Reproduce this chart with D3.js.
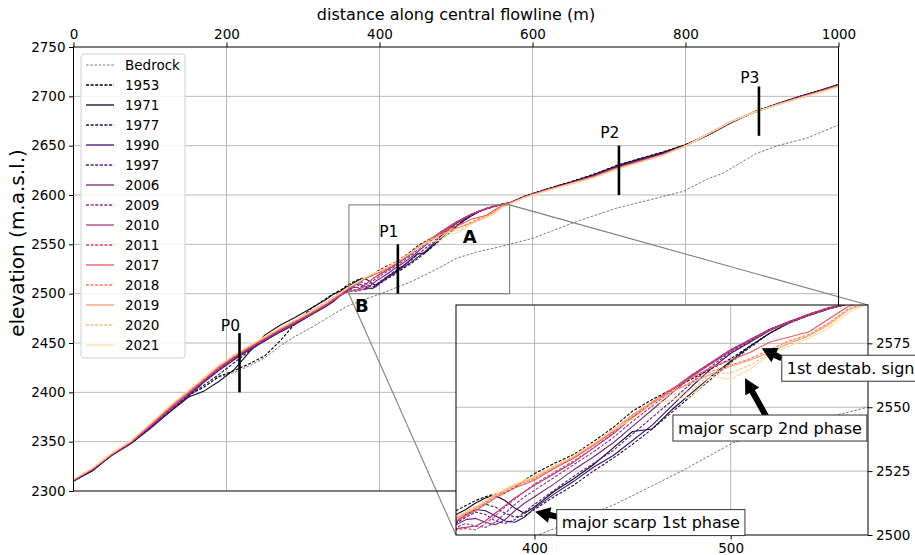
<!DOCTYPE html>
<html>
<head>
<meta charset="utf-8">
<script src="https://cdn.jsdelivr.net/npm/d3@7"></script>
<style>
  body { margin: 0; background: #fff; }
  svg { font-family: "DejaVu Sans", sans-serif; }
</style>
</head>
<body>
<svg id="chart" width="915" height="555"></svg>
<script>
// Distance along the central flowline (m) shared by all surface profiles
const distance = [0,25,50,75,100,125,150, 170,190,210,230,250,270,290,310,330,340,
  350,355,360,365,370,375,380,385,390,395,400,
  410,420,430,440,450,460,470,480,490,500,510,520,530,540,550,560,570,
  590,620,650,680,710,740,770,800,830,860,890,920,950,980,1000];

// Surface elevation (m a.s.l.) per survey year, sampled at `distance`
const elev1953 = [2310,2321,2337,2348,2364,2380,2397, 2405,2416,2422,2429,2437,2452,2470,2484.5,2495,2500,
  2504,2507,2509.5,2511.5,2513.5,2515,2516,2516.5,2518.5,2521.5,2524,
  2528,2531.5,2536.5,2542,2548.5,2553,2557,2561,2565,2569,2574,2579,2583,2586,2588.5,2590.5,2592,
  2599,2606.5,2613.5,2621,2630,2637,2643.5,2651,2661,2673.5,2684.5,2692.5,2700,2707,2712];
const elev1971 = [2310,2320.5,2336.5,2348,2363.5,2379.5,2395, 2401,2411,2423,2441,2458,2468,2476,2485,2494,2499.5,
  2503,2506,2508,2510,2512.5,2514.5,2515.5,2513.5,2510.5,2508.5,2511,
  2517,2522,2527.5,2534,2540.5,2541.5,2549,2555.5,2562,2568,2574,2579,2583.3,2586,2588.5,2590.5,2592,
  2598.5,2606,2613,2620.5,2629.5,2636.5,2643,2651,2661.5,2674,2684.5,2692.5,2700,2707,2712];
const elev1977 = [2310.5,2321,2337,2348.5,2364,2380,2396, 2407,2418,2430,2442,2453,2464,2473,2482,2491,2496.5,
  2501.5,2504.5,2507,2509,2511,2512,2511,2508.5,2507,2507.5,2510,
  2515,2519.5,2525,2530,2535.5,2541.5,2548,2554.5,2561,2567.5,2573.5,2579,2583,2586,2588.5,2590.5,2592,
  2598.5,2606,2613,2620,2629,2636,2642.5,2650.5,2661,2673.5,2684,2692.5,2700,2707,2712];
const elev1990 = [2310,2321.5,2336,2348,2363,2380,2396, 2410,2422,2433,2443,2452,2461,2469,2478,2487,2492,
  2499.5,2502.5,2505,2508,2510,2509.5,2507.5,2505.5,2505,2507,2510.5,
  2516,2521,2526.5,2531,2537,2543,2550.5,2558,2565,2571,2575.5,2580,2583.5,2586,2588.5,2590.5,2592,
  2598.5,2606,2612.5,2619.5,2628.5,2635.5,2642,2650,2661,2673.5,2684,2692,2699.5,2706.5,2711.5];
const elev1997 = [2310.5,2322,2336.5,2348.5,2364,2381,2397, 2410.5,2423,2434,2443.5,2452.5,2461.5,2469.5,2478.5,2487.5,2492.5,
  2499,2502,2504.5,2507,2509,2508,2505.5,2504.5,2506,2509,2512,
  2517.5,2523,2528,2533,2539.5,2546,2552.5,2559.5,2566,2571.5,2576,2580.5,2583.5,2586.5,2589,2590.5,2592,
  2598.5,2606,2612.5,2619.5,2628,2635,2641.5,2650,2661,2673.5,2684,2692,2699.5,2706.5,2711.5];
const elev2006 = [2311,2322,2337,2349,2365,2382,2398, 2411,2423.5,2434.5,2444,2453,2462,2470,2479,2488,2493,
  2498.5,2501.5,2504,2506,2506.5,2505,2504,2506,2509.5,2512.5,2515,
  2520,2525.5,2530.5,2536,2542.5,2549,2555.5,2562,2567,2572,2576.5,2580.5,2583.5,2586,2588.5,2590.5,2592,
  2598.5,2605.5,2612,2619,2628,2635,2641.5,2650,2661.5,2674,2684,2692,2699.5,2706.5,2711.5];
const elev2009 = [2311,2322.5,2337,2349,2365,2382,2398.5, 2411.5,2424,2435,2444.5,2453.5,2462.5,2470.5,2479,2488,2493.5,
  2498.5,2501,2503,2504.5,2503.5,2503,2505,2508.5,2512,2515,2517.5,
  2522.5,2527.5,2532.5,2538,2544.5,2550.5,2556.5,2562.5,2567.5,2572.5,2576.5,2580.5,2583.5,2586,2588.5,2590.5,2592,
  2598,2605.5,2612,2619,2627.5,2634.5,2641,2650,2661.5,2674,2684,2692,2699,2706,2711];
const elev2010 = [2311,2322,2337.5,2349.5,2365.5,2383,2399, 2412,2425,2435.5,2445,2454,2463,2471,2479.5,2488.5,2494,
  2499,2501,2502.5,2503,2503.5,2505.5,2508.5,2511.5,2514.5,2517,2519.5,
  2524,2528.5,2534,2539.5,2546,2551.5,2557,2562.5,2567.5,2572.5,2576.5,2580.5,2583.5,2586.5,2589,2590.5,2592,
  2598,2605.5,2612,2619,2627.5,2634.5,2641,2650,2661.5,2674,2684,2692,2699,2706,2711];
const elev2011 = [2311.5,2322.5,2337.5,2349.5,2366,2383,2399, 2412,2425,2436,2445.5,2454.5,2463.5,2471.5,2480,2489,2494,
  2499,2500.5,2502,2502.5,2502,2504.5,2507.5,2511,2514,2517,2520,
  2524.5,2529,2534,2540,2546,2552,2557,2562,2567,2572,2576,2580,2583,2586,2588.5,2590.5,2592,
  2598,2605.5,2612,2618.5,2627,2634,2641,2650,2661.5,2674,2684,2692,2699,2706,2711];
const elev2017 = [2311.5,2322.5,2337.5,2350,2366.5,2384,2400, 2413,2426,2436.5,2446,2455,2464,2472,2480.5,2489.5,2495,
  2500,2503,2505.5,2507.5,2509.5,2512,2514.5,2516.5,2518.5,2520,2521.5,
  2526,2530,2535,2540.5,2546.5,2552,2557,2561.5,2565.5,2568.5,2571.5,2575.5,2577.5,2579.5,2584.5,2589.5,2591.5,
  2598,2605,2611.5,2618.5,2627,2634,2640.5,2650,2662,2674.5,2684,2691.5,2698.5,2705.5,2710.5];
const elev2018 = [2311.5,2323,2338,2350,2367,2384.5,2400.5, 2413.5,2426.5,2437,2446.5,2455.5,2464.5,2472.5,2481,2490,2495.5,
  2500.5,2503.5,2506,2508,2510,2512.5,2515,2517,2519,2520.5,2522,
  2526.5,2530.5,2535.5,2541,2547,2552,2556,2560,2564,2566.5,2569,2572.5,2576,2578.5,2583,2588.5,2591,
  2598,2605,2611.5,2618,2626.5,2633.5,2640.5,2650,2662,2674.5,2684,2691.5,2698.5,2705.5,2710.5];
const elev2019 = [2312,2323,2338,2350.5,2367.5,2385,2401, 2414,2427,2437.5,2447,2456,2465,2473,2481.5,2490.5,2496,
  2501,2504,2506.5,2508.5,2510.5,2513,2515.5,2517.5,2519.5,2521,2522.5,
  2526.5,2530.5,2535.5,2541,2547,2552,2556,2559.5,2563,2566,2568.5,2571.5,2575,2578,2582.5,2588,2591,
  2597.5,2605,2611.5,2618,2626.5,2633.5,2640.5,2650,2662,2674.5,2684,2691.5,2698.5,2705.5,2710];
const elev2020 = [2312,2323,2338,2350.5,2368,2385.5,2401.5, 2414,2427,2437.5,2447,2456,2465,2473,2481.5,2490.5,2496,
  2501.5,2504,2507,2509,2511,2513,2515.5,2517.5,2519.5,2521,2523,
  2527,2531,2535.5,2541,2546.5,2551.5,2555,2556.5,2563,2563.5,2566.5,2571,2575.5,2578,2582,2588,2591,
  2597.5,2604.5,2611,2617.5,2626,2633,2640,2649.5,2662,2674.5,2684,2691.5,2698.5,2705,2710];
const elev2021 = [2312,2323.5,2338.5,2351,2368,2386,2402, 2414.5,2427.5,2438,2447.5,2456.5,2465.5,2473.5,2482,2491,2496.5,
  2501.5,2504.5,2507,2509,2511,2513.5,2516,2518,2520,2521.5,2523,
  2527,2531,2536,2541,2545.5,2551,2553,2554,2562,2561,2565,2570.5,2574,2577,2581,2587,2590.5,
  2597.5,2604.5,2611,2617.5,2626,2633,2640,2649.5,2662,2674.5,2684,2691.5,2698.5,2705,2710];

const years = ["1953","1971","1977","1990","1997","2006","2009","2010","2011","2017","2018","2019","2020","2021"];
const elevations = [elev1953,elev1971,elev1977,elev1990,elev1997,elev2006,elev2009,elev2010,elev2011,
  elev2017,elev2018,elev2019,elev2020,elev2021];
const dashedYears = ["1953","1977","1997","2009","2011","2018","2020"];

// Bedrock profile
const bedrockDist = [185,210,230,250,270,290,313,335,357,380,402,441,475,501,526,557,600,657,709,753,796,831,849,892,923,958,1000];
const bedrockElev = [2414,2420,2427,2435,2447,2457,2466.5,2477,2487,2494,2500,2512,2525,2536,2542,2547.5,2556,2573,2586.5,2595,2603.5,2617,2622,2642,2650.5,2657.5,2671];

// Profile markers P0..P3: distance, bottom and top elevation
const markerNames = ["P0","P1","P2","P3"];
const markerDist = [217,424,713,896];
const markerLow = [2400,2500,2600,2660];
const markerHigh = [2460,2550,2650,2710];
const markerLabelGap = [2,7,7.5,3];

// Axis ticks
const xTicks = [0,200,400,600,800,1000];
const yTicks = [2300,2350,2400,2450,2500,2550,2600,2650,2700,2750];
const insetXTicks = [400,500];
const insetYTicks = [2500,2525,2550,2575];

// Zoom window
const zoomX = [360,570];
const zoomY = [2500,2590];

const svg = d3.select("#chart");
const M = {left: 73.5, right: 838.5, top: 47, bottom: 491};
const I = {left: 456, right: 868, top: 305, bottom: 535};

const x = d3.scaleLinear([0,1000],[M.left,M.right]);
const y = d3.scaleLinear([2300,2750],[M.bottom,M.top]);
const xi = d3.scaleLinear(zoomX,[I.left,I.right]);
const yi = d3.scaleLinear(zoomY,[I.bottom,I.top]);
const fmt = d3.format("d");

const color = i => d3.interpolateMagma(i/14);
const gridColor = "#b0b0b0";
const bedColor = "#555";

const defs = svg.append("defs");
defs.append("clipPath").attr("id","clipMain").append("rect")
  .attr("x",M.left).attr("y",M.top).attr("width",M.right-M.left).attr("height",M.bottom-M.top);
defs.append("clipPath").attr("id","clipInset").append("rect")
  .attr("x",I.left).attr("y",I.top).attr("width",I.right-I.left).attr("height",I.bottom-I.top);

function drawProfiles(g, sx, sy) {
  const line = d3.line().x(d => sx(d[0])).y(d => sy(d[1]));
  g.append("path")
    .attr("d", line(bedrockDist.map((d,i)=>[d,bedrockElev[i]])))
    .attr("fill","none").attr("stroke",bedColor).attr("stroke-width",0.8)
    .attr("stroke-dasharray","2.6,1.6");
  years.forEach((yr,k) => {
    g.append("path")
      .attr("d", line(distance.map((d,i)=>[d,elevations[k][i]])))
      .attr("fill","none").attr("stroke",color(k)).attr("stroke-width",1.1)
      .attr("stroke-linejoin","round")
      .attr("stroke-dasharray", dashedYears.includes(yr) ? "3,1.6" : null);
  });
}

// ---------- main axes ----------
const main = svg.append("g");
const grid = main.append("g").attr("stroke",gridColor).attr("stroke-width",0.9);
xTicks.slice(1,-1).forEach(t => grid.append("line").attr("x1",x(t)).attr("x2",x(t)).attr("y1",M.top).attr("y2",M.bottom));
yTicks.slice(1,-1).forEach(t => grid.append("line").attr("x1",M.left).attr("x2",M.right).attr("y1",y(t)).attr("y2",y(t)));

drawProfiles(main.append("g").attr("clip-path","url(#clipMain)"), x, y);

// zoom window and connectors
main.append("rect").attr("x",x(zoomX[0])).attr("y",y(zoomY[1]))
  .attr("width",x(zoomX[1])-x(zoomX[0])).attr("height",y(zoomY[0])-y(zoomY[1]))
  .attr("fill","none").attr("stroke","#7f7f7f").attr("stroke-width",1.1);
main.append("line").attr("x1",x(zoomX[1])).attr("y1",y(zoomY[1])).attr("x2",I.right).attr("y2",I.top)
  .attr("stroke","#7f7f7f").attr("stroke-width",1.1);
main.append("line").attr("x1",x(zoomX[0])).attr("y1",y(zoomY[0])).attr("x2",I.left).attr("y2",I.bottom)
  .attr("stroke","#7f7f7f").attr("stroke-width",1.1);

// profile markers
markerNames.forEach((n,i) => {
  main.append("line").attr("x1",x(markerDist[i])).attr("x2",x(markerDist[i]))
    .attr("y1",y(markerLow[i])).attr("y2",y(markerHigh[i]))
    .attr("stroke","#000").attr("stroke-width",2.6);
  main.append("text").attr("x",x(markerDist[i])+0.5).attr("y",y(markerHigh[i])-markerLabelGap[i])
    .attr("text-anchor","end").attr("font-size",15.5).attr("fill","#000").text(n);
});
main.append("text").attr("x",x(518)).attr("y",y(2551.5)).attr("text-anchor","middle")
  .attr("font-size",18).attr("font-weight","bold").text("A");
main.append("text").attr("x",x(377)).attr("y",y(2481)).attr("text-anchor","middle")
  .attr("font-size",18).attr("font-weight","bold").text("B");

// frame
main.append("rect").attr("x",M.left).attr("y",M.top).attr("width",M.right-M.left).attr("height",M.bottom-M.top)
  .attr("fill","none").attr("stroke","#000").attr("stroke-width",1);

// axes
const axTop = main.append("g").attr("transform",`translate(0,${M.top})`)
  .call(d3.axisTop(x).tickValues(xTicks).tickFormat(fmt).tickSize(4.5).tickPadding(3.5));
const axLeft = main.append("g").attr("transform",`translate(${M.left},0)`)
  .call(d3.axisLeft(y).tickValues(yTicks).tickFormat(fmt).tickSize(4.5).tickPadding(3.5));
[axTop, axLeft].forEach(a => {
  a.select(".domain").remove();
  a.selectAll("text").attr("font-size",13.5).attr("font-family","DejaVu Sans").attr("fill","#000");
  a.selectAll("line").attr("stroke","#000");
});
main.append("text").attr("x",(M.left+M.right)/2).attr("y",20).attr("text-anchor","middle")
  .attr("font-size",16).text("distance along central flowline (m)");
main.append("text").attr("transform","translate(23.5,243) rotate(-90)").attr("text-anchor","middle")
  .attr("font-size",20).text("elevation (m.a.s.l.)");

// legend
const leg = main.append("g");
leg.append("rect").attr("x",81).attr("y",54).attr("width",104).attr("height",304).attr("rx",3)
  .attr("fill","#fff").attr("fill-opacity",0.85).attr("stroke","#d0d0d0");
const legNames = ["Bedrock"].concat(years);
legNames.forEach((n,i) => {
  const cy = 65 + i*20;
  const isBed = i === 0;
  leg.append("line").attr("x1",86).attr("x2",114).attr("y1",cy).attr("y2",cy)
    .attr("stroke", isBed ? bedColor : color(i-1))
    .attr("stroke-width", isBed ? 0.8 : 1.3)
    .attr("stroke-dasharray", isBed ? "2.6,1.6" : (dashedYears.includes(n) ? "3,1.6" : null));
  leg.append("text").attr("x",125).attr("y",cy).attr("dy","0.35em").attr("font-size",13.5).text(n);
});

// ---------- inset ----------
const inset = svg.append("g");
inset.append("rect").attr("x",I.left).attr("y",I.top).attr("width",I.right-I.left).attr("height",I.bottom-I.top)
  .attr("fill","#fff");
const ig = inset.append("g").attr("stroke",gridColor).attr("stroke-width",0.9);
insetXTicks.forEach(t => ig.append("line").attr("x1",xi(t)).attr("x2",xi(t)).attr("y1",I.top).attr("y2",I.bottom));
insetYTicks.slice(1).forEach(t => ig.append("line").attr("x1",I.left).attr("x2",I.right).attr("y1",yi(t)).attr("y2",yi(t)));
drawProfiles(inset.append("g").attr("clip-path","url(#clipInset)"), xi, yi);
inset.append("rect").attr("x",I.left).attr("y",I.top).attr("width",I.right-I.left).attr("height",I.bottom-I.top)
  .attr("fill","none").attr("stroke","#000").attr("stroke-width",1);
const axR = inset.append("g").attr("transform",`translate(${I.right},0)`)
  .call(d3.axisRight(yi).tickValues(insetYTicks).tickFormat(fmt).tickSize(4.5).tickPadding(3.5));
const axB = inset.append("g").attr("transform",`translate(0,${I.bottom})`)
  .call(d3.axisBottom(xi).tickValues(insetXTicks).tickFormat(fmt).tickSize(4.5).tickPadding(3.5));
[axR, axB].forEach(a => {
  a.select(".domain").remove();
  a.selectAll("text").attr("font-size",13.5).attr("font-family","DejaVu Sans").attr("fill","#000");
  a.selectAll("line").attr("stroke","#000");
});

// annotations: arrow tip/tail and label anchor in inset coordinates
const notes = [
  {text:"1st destab. sign", tip:[515.8,2573.1], tail:[526,2569.1], at:[528.6,2565.3], anchor:"start"},
  {text:"major scarp 2nd phase", tip:[507.3,2561.3], tail:[518.4,2546], at:[520,2541.9], anchor:"middle"},
  {text:"major scarp 1st phase", tip:[400.3,2509.1], tail:[412,2507.1], at:[413.9,2504.9], anchor:"start"}
];
function arrowPoints(t0, t1, w, hw, hl) {
  const dx = t1[0]-t0[0], dy = t1[1]-t0[1], L = Math.hypot(dx,dy);
  const ux = dx/L, uy = dy/L, px = -uy, py = ux;
  const bx = t1[0]-ux*hl, by = t1[1]-uy*hl;
  return [
    [t0[0]+px*w/2, t0[1]+py*w/2], [bx+px*w/2, by+py*w/2], [bx+px*hw/2, by+py*hw/2],
    t1, [bx-px*hw/2, by-py*hw/2], [bx-px*w/2, by-py*w/2], [t0[0]-px*w/2, t0[1]-py*w/2]
  ].map(p => p.join(",")).join(" ");
}
const ann = svg.append("g");
notes.forEach(n => {
  const tip = [xi(n.tip[0]), yi(n.tip[1])], tail = [xi(n.tail[0]), yi(n.tail[1])];
  ann.append("polygon").attr("points", arrowPoints(tail, tip, 6, 16, 15)).attr("fill","#000");
});
notes.forEach(n => {
  const g = ann.append("g");
  const box = g.append("rect").attr("fill","#fff").attr("stroke","#333").attr("stroke-width",1);
  const t = g.append("text").attr("x",xi(n.at[0])).attr("y",yi(n.at[1])).attr("dy","0.35em")
    .attr("text-anchor",n.anchor).attr("font-size",16).text(n.text);
  const bb = t.node().getBBox();
  box.attr("x",bb.x-5).attr("y",bb.y-3.5).attr("width",bb.width+10).attr("height",bb.height+7);
});
</script>
</body>
</html>
